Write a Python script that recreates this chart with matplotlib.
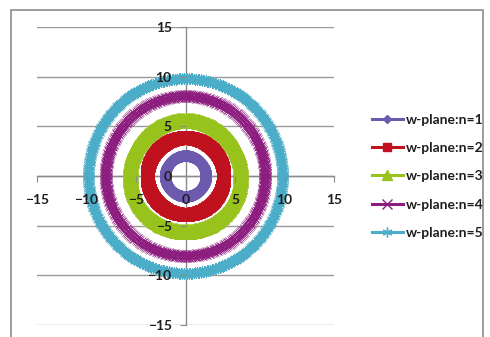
import numpy as np
import matplotlib.pyplot as plt
from matplotlib.patches import Rectangle

plt.rcParams['font.family'] = ['Lato', 'DejaVu Sans']

# series: radii of the concentric circles making up each w-plane ring
labels = ['w-plane:n=1', 'w-plane:n=2', 'w-plane:n=3', 'w-plane:n=4', 'w-plane:n=5']
radii_n1 = [1.8, 2.05, 2.3]
radii_n2 = [3.5, 3.75, 4.0, 4.22]
radii_n3 = [5.15, 5.45, 5.75, 6.05]
radii_n4 = [7.75, 8.05, 8.35]
radii_n5 = [9.55, 9.8, 10.05]
angles_deg = np.arange(0, 361, 1)

ticks = [-15, -10, -5, 0, 5, 10, 15]

colors = ['#6B5AAD', '#C0121E', '#98C21C', '#8C1D7E', '#4BADC8']
markers = ['D', 's', '^', 'x', (6, 2, 0)]
msizes = [3, 4.5, 5, 5, 5]

fig = plt.figure(figsize=(4.9, 3.37), dpi=100)
ax = fig.add_axes([37 / 490, 1 - 325 / 337, 297 / 490, 298 / 337])

# horizontal gridlines under everything
for t in ticks:
    ax.axhline(t, color='#9a9a9a', lw=1.0, zorder=0.5)

th = np.radians(angles_deg)
lines = []
for radii, c, m, ms, lab in zip([radii_n1, radii_n2, radii_n3, radii_n4, radii_n5],
                                colors, markers, msizes, labels):
    xs = np.concatenate([r * np.cos(th) for r in radii])
    ys = np.concatenate([r * np.sin(th) for r in radii])
    filled = m not in ('x', (6, 2, 0))
    ln, = ax.plot(xs, ys, color=c, lw=1.2, marker=m, markersize=ms,
                  markerfacecolor=c if filled else 'none', markeredgecolor=c,
                  markeredgewidth=0.5, label=lab, zorder=3)
    lines.append(ln)

ax.set_xlim(-15, 15)
ax.set_ylim(-15, 15)
for side in ['top', 'right']:
    ax.spines[side].set_visible(False)
ax.spines['left'].set_position('zero')
ax.spines['bottom'].set_position('zero')
for side in ['left', 'bottom']:
    ax.spines[side].set_color('#8a8a8a')
    ax.spines[side].set_linewidth(1.0)
    ax.spines[side].set_zorder(1)

ax.set_xticks(ticks)
ax.set_yticks(ticks)
ax.tick_params(axis='both', direction='out', length=4, color='#8a8a8a',
               labelsize=10, labelcolor='#1e1e1e')
ax.tick_params(axis='x', pad=9)
ax.tick_params(axis='y', pad=6)
for lbl in ax.get_xticklabels() + ax.get_yticklabels():
    lbl.set_fontweight('bold')
ax.xaxis.set_zorder(4)
ax.yaxis.set_zorder(4)
ax.patch.set_alpha(0)

leg = fig.legend(handles=lines, loc='upper left', bbox_to_anchor=(359 / 490, 1 - 101 / 337),
                 frameon=False, numpoints=1, handlelength=2.3, handletextpad=0.15,
                 labelspacing=1.18, markerscale=1.4,
                 prop={'size': 10, 'weight': 'bold'}, labelcolor='#1e1e1e')
for h in leg.legend_handles:
    h.set_linewidth(2.2)
    h.set_markeredgewidth(1.0)

fig.patches.append(Rectangle((11 / 490, -0.02), 472 / 490, 1.02 - 10 / 337,
                             transform=fig.transFigure, fill=False,
                             edgecolor='#8c8c8c', lw=1.2))

fig.savefig('out.png', dpi=100)
